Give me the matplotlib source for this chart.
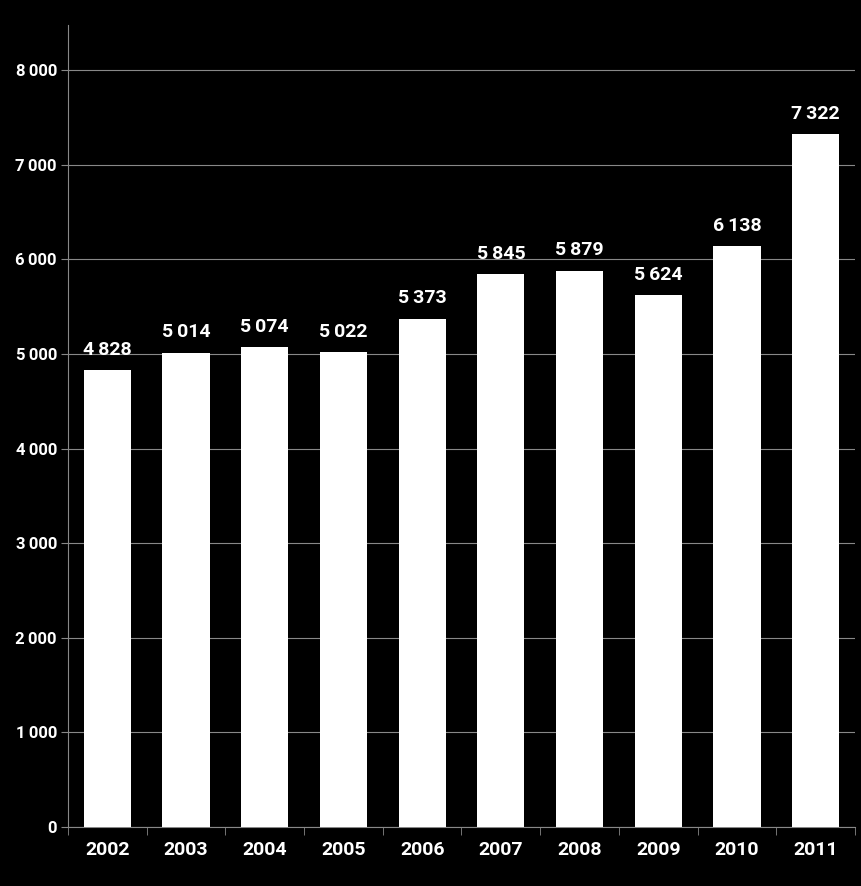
import matplotlib.pyplot as plt
import numpy as np

years = ['2002', '2003', '2004', '2005', '2006', '2007', '2008', '2009', '2010', '2011']
values = [4828, 5014, 5074, 5022, 5373, 5845, 5879, 5624, 6138, 7322]
yticks = [0, 1000, 2000, 3000, 4000, 5000, 6000, 7000, 8000]

def fmt(v):
    # thin space as thousands separator
    return '{:,}'.format(v).replace(',', '\u2009')

plt.rcParams['font.family'] = ['Liberation Sans Narrow', 'Roboto', 'DejaVu Sans']
plt.rcParams['font.weight'] = 'bold'

fig = plt.figure(figsize=(8.61, 8.86), dpi=100, facecolor='black')
ax = fig.add_axes([0.079, 0.0666, 0.914, 0.905], facecolor='black')

x = np.arange(len(years))
ax.bar(x, values, width=0.6, color='white', zorder=3)
for xi, v in zip(x, values):
    ax.text(xi, v + 120, fmt(v), color='white', ha='center', va='bottom', fontsize=14, fontweight='bold')

ax.set_xlim(-0.5, len(years) - 0.5)
ax.set_ylim(0, 8475)
ax.set_yticks(yticks)
ax.set_yticklabels([fmt(t) for t in yticks], color='white', fontsize=12, fontweight='bold')
ax.set_xticks(x)
ax.set_xticklabels(years, color='white', fontsize=14, fontweight='bold')
ax.set_xticks(np.arange(len(years) + 1) - 0.5, minor=True)
ax.tick_params(axis='x', which='major', length=0, pad=10)
ax.tick_params(axis='x', which='minor', length=6, color='#888888', direction='out')
ax.tick_params(axis='y', length=5, color='#888888', pad=3)
ax.grid(axis='y', color='#888888', linewidth=0.8, zorder=0)

for s in ['top', 'right']:
    ax.spines[s].set_visible(False)
for s in ['left', 'bottom']:
    ax.spines[s].set_color('#888888')

fig.savefig('out.png', dpi=100, facecolor='black')
